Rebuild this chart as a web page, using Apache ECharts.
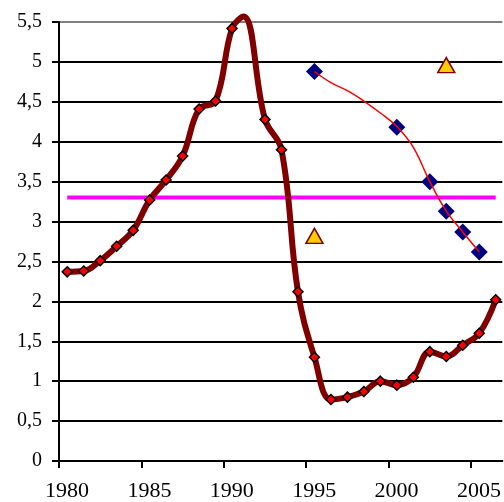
<!DOCTYPE html>
<html>
<head>
<meta charset="utf-8">
<style>
  html, body { margin: 0; padding: 0; background: #fff; }
  #chart { width: 504px; height: 502px; }
</style>
<script src="https://cdn.jsdelivr.net/npm/echarts@6/dist/echarts.min.js"></script>
</head>
<body>
<div id="chart"></div>
<script>
// --- data ---
const mainYears = [1980.5, 1981.5, 1982.5, 1983.5, 1984.5, 1985.5, 1986.5, 1987.5, 1988.5, 1989.5,
  1990.5, 1991.2, 1992.5, 1993.5, 1994.5, 1995.5, 1996.5, 1997.5, 1998.5, 1999.5,
  2000.5, 2001.5, 2002.5, 2003.5, 2004.5, 2005.5, 2006.5];
const mainValues = [2.37, 2.38, 2.51, 2.69, 2.89, 3.27, 3.52, 3.82, 4.41, 4.51,
  5.42, 5.57, 4.28, 3.90, 2.12, 1.30, 0.77, 0.80, 0.87, 1.00,
  0.95, 1.05, 1.37, 1.31, 1.45, 1.60, 2.02];
const hiddenMarkerYear = 1991.2; // the peak has no marker

const trendYears = [1995.5, 1996.5, 1997.5, 1998.5, 1999.5, 2000.5, 2001.5, 2002.5, 2003.5, 2004.5, 2005.5];
const trendValues = [4.88, 4.74, 4.64, 4.51, 4.36, 4.19, 3.93, 3.50, 3.13, 2.87, 2.62];

const diamondYears = [1995.5, 2000.5, 2002.5, 2003.5, 2004.5, 2005.5];
const diamondValues = [4.88, 4.18, 3.50, 3.13, 2.87, 2.62];

const triangleYears = [1995.5, 2003.5];
const triangleValues = [2.82, 4.96];

const levelYears = [1980.5, 2006.5];
const levelValue = 3.3;

const xTicks = [1980, 1985, 1990, 1995, 2000, 2005];

// --- colours ---
const COLORS = {
  main: '#800000',
  marker: '#ff0000',
  trend: '#ff0000',
  diamond: '#000080',
  triangle: '#ffcc00',
  level: '#ff00ff',
  grid: '#000000',
  text: '#000000'
};

const FONT = 'Liberation Serif';

const pair = (xs, ys) => xs.map((x, i) => [x, ys[i]]);

const chart = echarts.init(document.getElementById('chart'));

// split line colours: last one (top border) is grey
const splitColors = [];
for (let i = 0; i < 11; i++) splitColors.push(COLORS.grid);
splitColors.push('#808080');

const option = {
  animation: false,
  backgroundColor: '#fff',
  grid: { left: 59, right: 0, top: 22, bottom: 39, containLabel: false },
  xAxis: {
    type: 'value',
    min: 1980,
    max: 2006.9,
    interval: 5,
    axisLine: { show: true, lineStyle: { color: COLORS.grid, width: 2 } },
    axisTick: { show: true, length: 7, lineStyle: { color: COLORS.grid, width: 2 } },
    splitLine: { show: false },
    axisLabel: {
      showMaxLabel: false,
      margin: 19,
      padding: [0, 0, 0, 16],
      color: COLORS.text,
      fontFamily: FONT,
      fontSize: 22,
      formatter: (v) => (xTicks.indexOf(v) >= 0 ? String(v) : '')
    }
  },
  yAxis: {
    type: 'value',
    min: 0,
    max: 5.5,
    interval: 0.5,
    axisLine: { show: true, lineStyle: { color: COLORS.grid, width: 2 } },
    axisTick: { show: true, length: 7, lineStyle: { color: COLORS.grid, width: 2 } },
    splitLine: { show: true, lineStyle: { color: splitColors, width: 2 } },
    axisLabel: {
      margin: 17,
      color: COLORS.text,
      fontFamily: FONT,
      fontSize: 20,
      formatter: (v) => String(v).replace('.', ',')
    }
  },
  series: [
    {
      // magenta level line
      name: 'level',
      type: 'line',
      data: levelYears.map((x) => [x, levelValue]),
      symbol: 'none',
      lineStyle: { color: COLORS.level, width: 4 },
      z: 2
    },
    {
      name: 'main',
      type: 'line',
      clip: false,
      data: mainYears.map((x, i) => {
        const item = { value: [x, mainValues[i]] };
        if (x === hiddenMarkerYear) item.symbol = 'none';
        return item;
      }),
      smooth: 0.4,
      symbol: 'diamond',
      symbolSize: 10,
      showAllSymbol: true,
      lineStyle: { color: COLORS.main, width: 6 },
      itemStyle: { color: COLORS.marker, borderColor: '#000', borderWidth: 1.5 },
      z: 3
    },
    {
      name: 'trend',
      type: 'line',
      data: pair(trendYears, trendValues),
      smooth: 0.4,
      symbol: 'none',
      lineStyle: { color: COLORS.trend, width: 1.5 },
      z: 4
    },
    {
      name: 'diamonds',
      type: 'scatter',
      data: pair(diamondYears, diamondValues),
      symbol: 'diamond',
      symbolSize: 17,
      itemStyle: { color: COLORS.diamond, opacity: 1 },
      z: 3
    },
    {
      name: 'triangles',
      type: 'scatter',
      data: pair(triangleYears, triangleValues),
      symbol: 'triangle',
      symbolSize: [17, 15],
      itemStyle: { color: COLORS.triangle, borderColor: COLORS.main, borderWidth: 1.5, opacity: 1 },
      z: 5
    }
  ]
};

chart.setOption(option);
</script>
</body>
</html>
